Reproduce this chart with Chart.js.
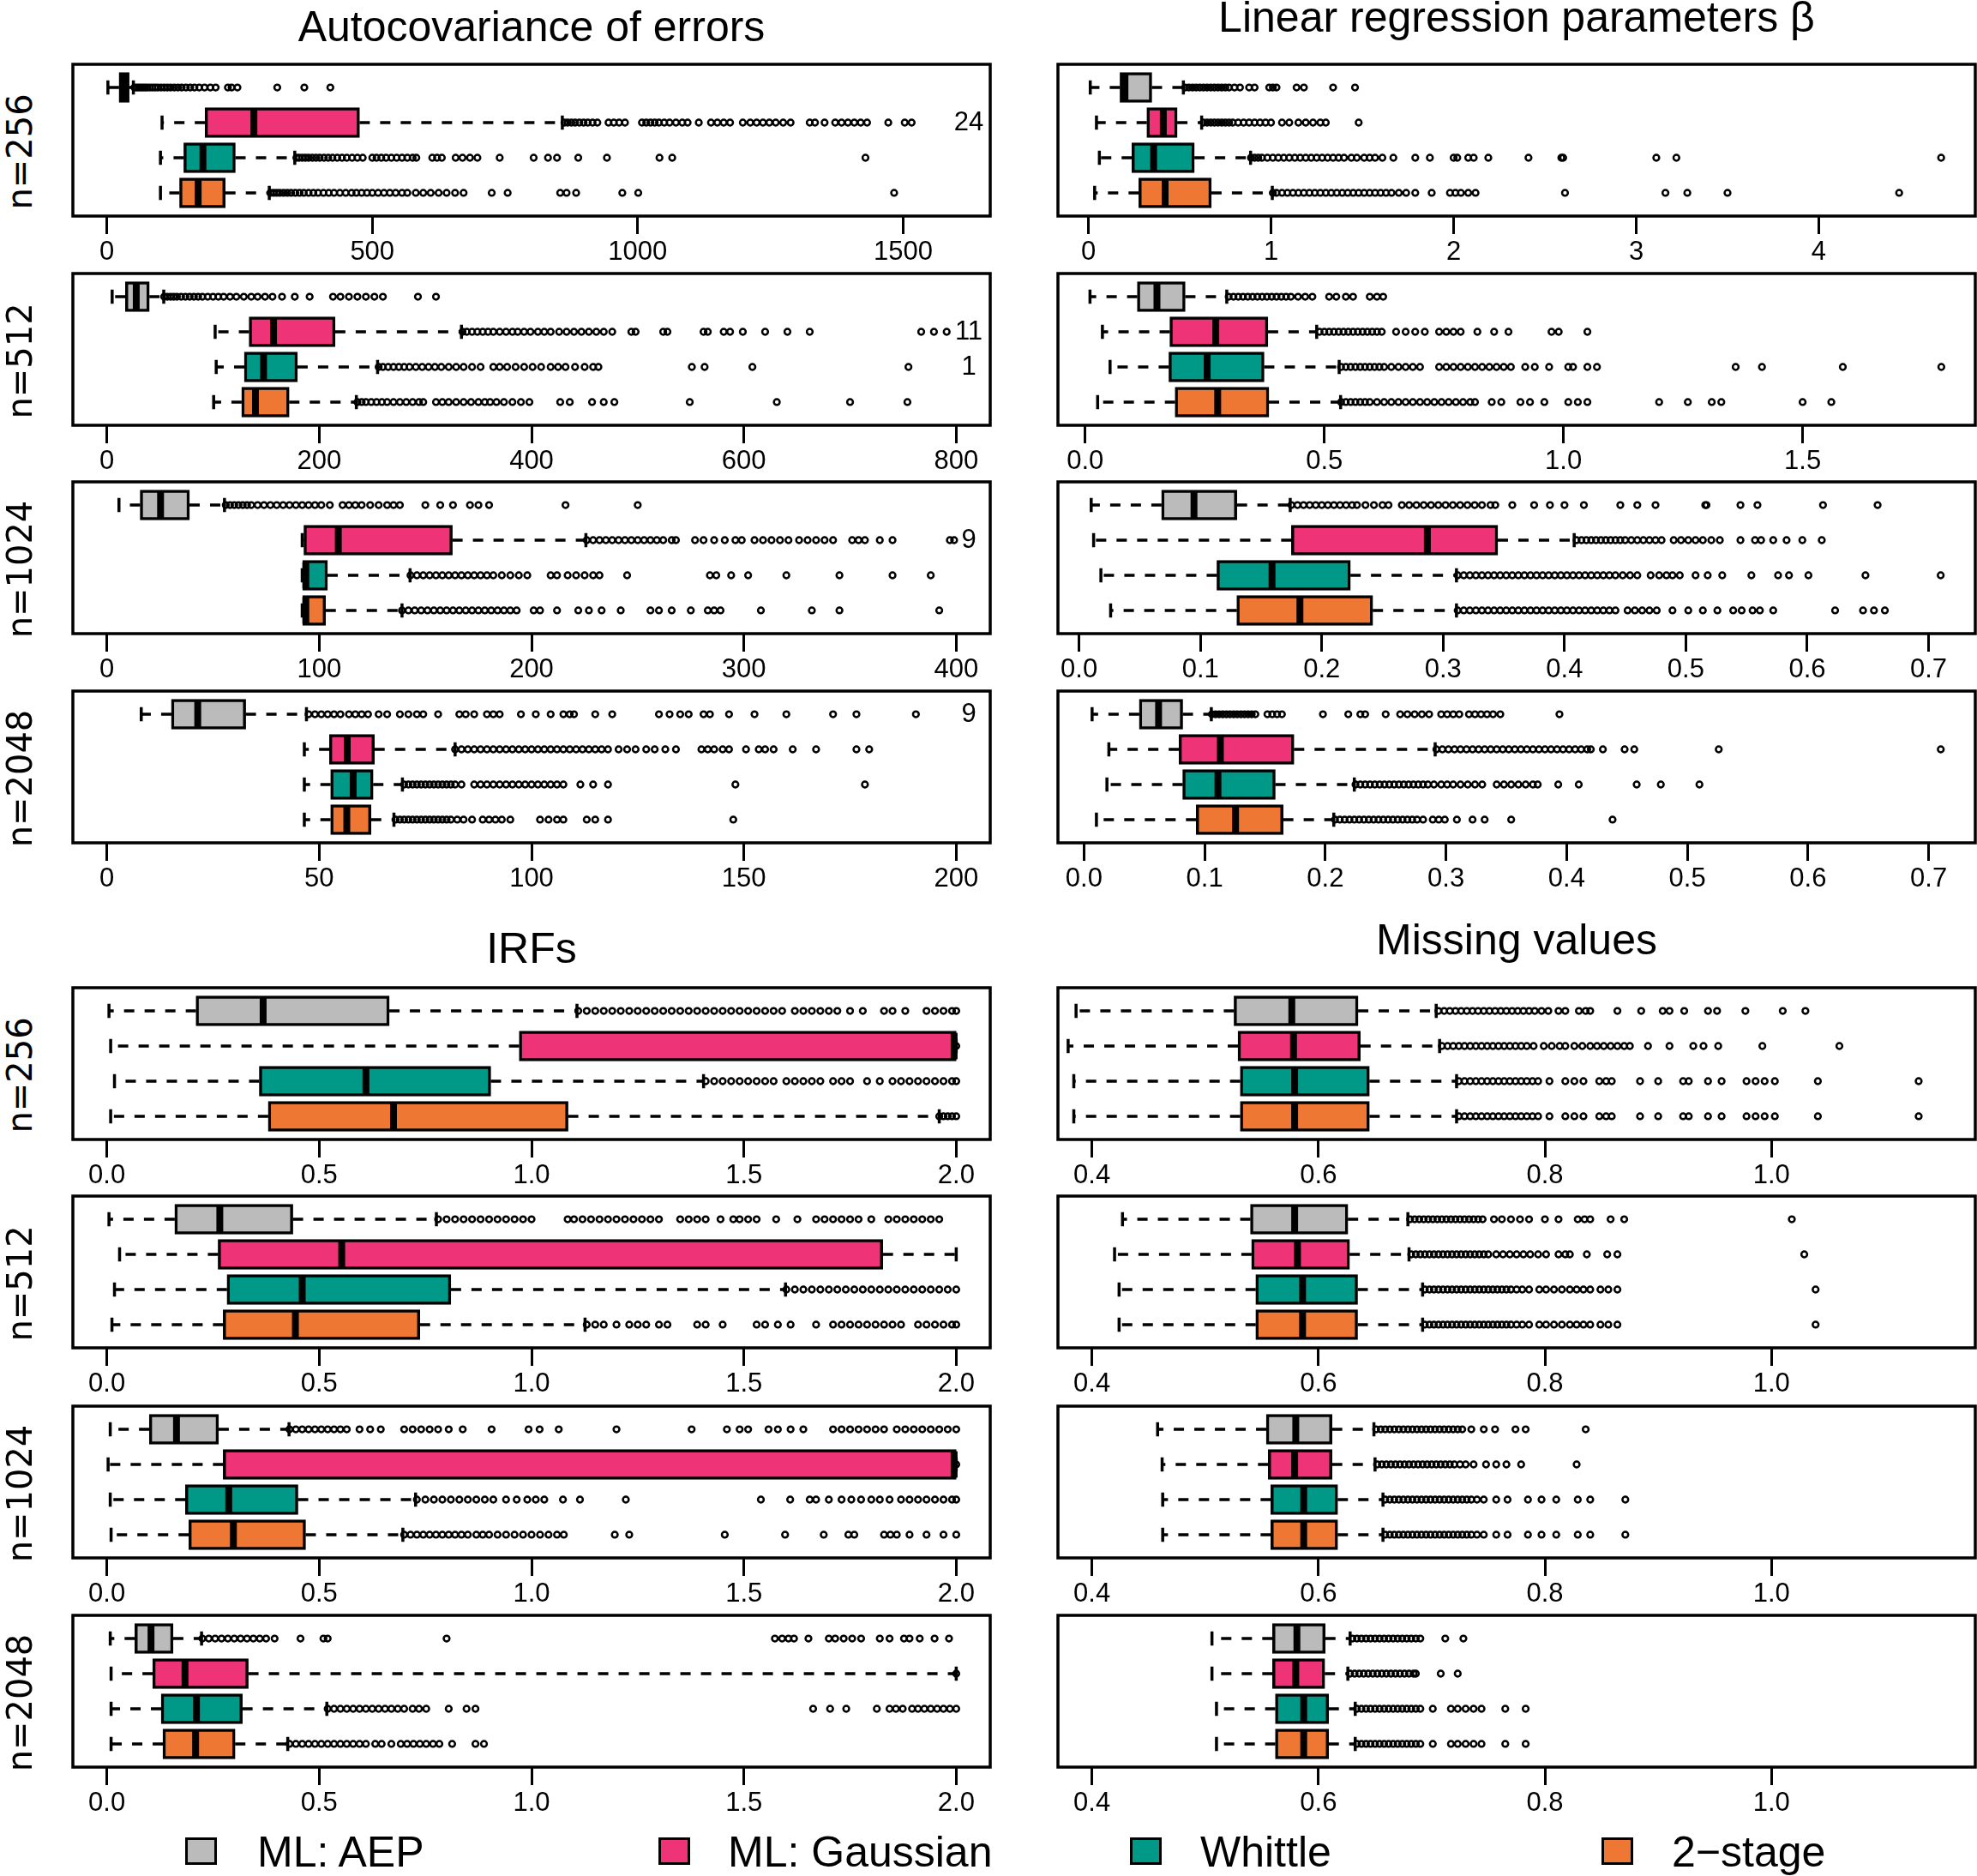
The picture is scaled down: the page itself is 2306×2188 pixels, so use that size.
<!DOCTYPE html>
<html>
<head>
<meta charset="utf-8">
<script src="https://cdn.jsdelivr.net/npm/chart.js@4.4.0/dist/chart.umd.min.js"></script>
<style>
html, body { margin: 0; padding: 0; width: 2306px; height: 2188px; overflow: hidden; background: #fff; }
body { position: relative; font-family: 'Liberation Sans', Arial, sans-serif; color: #000; }
canvas { position: absolute; }
.title { position: absolute; width: 1200px; text-align: center; font-size: 50px; line-height: 50px; white-space: nowrap; }
.rowlab { position: absolute; width: 200px; height: 40px; text-align: center; font-family: 'DejaVu Sans', sans-serif;
  font-size: 40px; line-height: 40px; white-space: nowrap; transform: rotate(-90deg); transform-origin: 50% 50%; }
.lgbox { position: absolute; width: 37px; height: 32px; box-sizing: border-box; border: 3px solid #000; }
.lgtxt { position: absolute; font-size: 50px; line-height: 50px; white-space: nowrap; }
</style>
</head>
<body>
<script>
// ---- data ----
const methods = ['ML: AEP', 'ML: Gaussian', 'Whittle', '2\u2212stage'];
const sampleSizes = ['n=256', 'n=512', 'n=1024', 'n=2048'];
const panelTitles = ['Autocovariance of errors', 'Linear regression parameters \u03b2', 'IRFs', 'Missing values'];

// box stats per method: [lower whisker, Q1, median, Q3, upper whisker]
const acov256Stats = [[2, 23, 32, 42, 50], [104, 185, 277, 476, 858], [101, 145, 181, 242, 354], [101, 137, 172, 223, 306]];
const acov512Stats = [[5, 17.5, 27.7, 40, 53.6], [102, 134, 157, 215, 334], [103, 129.5, 147.6, 179.5, 255], [100.6, 127, 140, 171.7, 235]];
const acov1024Stats = [[5.7, 15.7, 25.3, 38.9, 55.4], [92, 92.8, 109, 162.7, 225.6], [92, 92.2, 93.7, 103.9, 142.8], [92, 92.2, 93.7, 103, 139]];
const acov2048Stats = [[8.1, 15.2, 21.4, 32.7, 47], [46.5, 52.4, 56.6, 63, 82], [46.5, 52.7, 58, 62.7, 69.6], [46.5, 52.7, 56.5, 62.2, 67.6]];

const beta256Stats = [[0.01, 0.173, 0.20, 0.347, 0.52], [0.044, 0.32, 0.41, 0.486, 0.62], [0.06, 0.238, 0.357, 0.58, 0.888], [0.034, 0.276, 0.42, 0.673, 1.007]];
const beta512Stats = [[0.01, 0.109, 0.15, 0.209, 0.296], [0.036, 0.177, 0.273, 0.382, 0.484], [0.052, 0.175, 0.255, 0.374, 0.531], [0.026, 0.188, 0.277, 0.384, 0.534]];
const beta1024Stats = [[0.010, 0.068, 0.0947, 0.130, 0.174], [0.012, 0.175, 0.287, 0.345, 0.408], [0.018, 0.1136, 0.159, 0.2236, 0.311], [0.026, 0.130, 0.182, 0.242, 0.311]];
const beta2048Stats = [[0.0067, 0.0458, 0.0618, 0.0818, 0.1055], [0.0206, 0.0787, 0.113, 0.174, 0.291], [0.019, 0.0818, 0.111, 0.1585, 0.224], [0.0103, 0.093, 0.1256, 0.165, 0.207]];

const irf256Stats = [[0.005, 0.21, 0.368, 0.665, 1.107], [0.009, 0.971, 1.995, 2.0, 2.0], [0.018, 0.359, 0.61, 0.904, 1.405], [0.009, 0.38, 0.675, 1.086, 1.96]];
const irf512Stats = [[0.005, 0.16, 0.266, 0.438, 0.776], [0.03, 0.262, 0.553, 1.827, 2.0], [0.018, 0.283, 0.46, 0.81, 1.598], [0.012, 0.274, 0.444, 0.737, 1.126]];
const irf1024Stats = [[0.008, 0.10, 0.164, 0.263, 0.429], [0.003, 0.274, 1.995, 2.0, 2.0], [0.008, 0.185, 0.287, 0.45, 0.727], [0.01, 0.193, 0.298, 0.468, 0.697]];
const irf2048Stats = [[0.008, 0.066, 0.104, 0.156, 0.223], [0.01, 0.108, 0.184, 0.333, 2.0], [0.01, 0.128, 0.211, 0.319, 0.518], [0.01, 0.132, 0.209, 0.302, 0.426]];

const miss256Stats = [[0.386, 0.5255, 0.5765, 0.635, 0.704], [0.379, 0.529, 0.578, 0.637, 0.707], [0.384, 0.531, 0.579, 0.645, 0.722], [0.384, 0.531, 0.579, 0.645, 0.722]];
const miss512Stats = [[0.427, 0.54, 0.579, 0.626, 0.679], [0.42, 0.541, 0.5815, 0.6275, 0.68], [0.424, 0.5447, 0.586, 0.6346, 0.692], [0.424, 0.5447, 0.586, 0.6346, 0.692]];
const miss1024Stats = [[0.458, 0.554, 0.58, 0.612, 0.649], [0.462, 0.5557, 0.579, 0.612, 0.65], [0.4625, 0.558, 0.587, 0.617, 0.657], [0.4625, 0.558, 0.587, 0.617, 0.657]];
const miss2048Stats = [[0.506, 0.5595, 0.581, 0.606, 0.628], [0.506, 0.5595, 0.58, 0.6056, 0.626], [0.51, 0.562, 0.587, 0.609, 0.6325], [0.51, 0.562, 0.587, 0.609, 0.6325]];

// outliers per method
const acov256Out = [
  [52,56,60,64,68,72,76,81,86,91,96,102,108,114,120,127,134,141,149,157,165,174,184,195,205,228,235,246,321,372,421],
  [862,868,875,882,890,898,906,915,924,945,955,965,976,1008,1016,1024,1032,1040,1050,1060,1072,1084,1094,1115,1138,1150,1162,1174,1198,1212,1224,1236,1248,1260,1274,1288,1324,1334,1352,1372,1384,1396,1408,1420,1432,1472,1503,1516],
  [357,362,368,374,380,387,394,401,409,417,425,434,443,452,462,472,482,500,508,517,526,536,546,556,566,576,583,613,622,631,657,670,684,698,740,804,831,848,888,942,1041,1065,1429],
  [308,314,320,326,333,340,347,355,363,371,380,389,398,408,418,428,439,450,461,470,480,490,500,511,522,533,544,556,566,582,596,610,625,640,656,672,725,755,854,866,884,971,1001,1483]
];
const acov512Out = [
  [54,57,60,63,66,70,74,78,82,86,90,95,100,105,110,116,122,129,136,142,149,156,165,177,191,213,220,228,236,244,252,260,293,310],
  [335,339,344,349,354,359,364,370,376,382,387,393,399,406,412,418,426,433,440,447,454,461,468,476,494,498,524,528,562,566,581,587,599,620,641,662,767,779,791],
  [256,260,265,270,275,280,285,291,297,303,309,315,322,329,336,344,352,364,370,377,385,393,401,409,418,425,432,441,450,458,463,551,563,608,755],
  [236,240,244,249,254,259,264,270,276,282,288,294,298,310,316,322,329,336,343,350,356,361,367,374,382,390,398,427,436,457,468,478,549,631,700,754]
];
const acov1024Out = [
  [56,58,60,62,64,66,68,71,74,77,80,83,86,89,92,95,98,101,105,111,114,117,120,124,128,132,135,138,150,157,163,171,175,180,216,250],
  [226,229,232,235,238,241,244,247,250,253,256,259,262,266,268,277,281,286,291,296,299,305,309,313,317,321,326,330,334,338,342,351,354,357,364,370,397,399],
  [143,146,149,152,155,158,161,164,167,170,173,176,179,182,186,190,194,198,209,212,217,221,225,229,232,245,284,287,294,302,320,345,370,388],
  [139,142,145,148,151,154,157,160,163,166,169,172,175,178,181,184,187,190,193,201,204,212,222,227,233,242,256,260,266,275,283,286,289,308,332,345,392]
];
const acov2048Out = [
  [47.5,49,50.5,52,53.5,55,57,58.5,60,61.5,64,66,69,71,73,74.5,78,83,84.5,86.5,89.5,91,92.5,97.5,101,104.5,107.5,109,110,115,119,130,132.5,135,137,140.5,142,146.5,152.5,160,171,176.5,190.5],
  [82,83.5,85,86.5,88,89.5,91,92.5,94,95.5,97,98.5,100,101.5,103,104.5,106,107.5,109,110.5,112,113.5,115,116.5,118,120.5,122.5,124.5,127,129,131.5,134,140,141.5,143,145,146.5,150.5,153.5,155,157,161.5,167,176.5,179.5],
  [70,71,72,73,74,75,76,77,78,79,80,81,82,83.5,86.5,88,89.5,91,92.5,94,95.5,97,98.5,100,101.5,103,104.5,106,107.5,111.5,114.5,118,148,178.5],
  [68,69,70,71,72,73,74,75,76,77,78,79,80,81,82.5,84,86,88.5,90,91.5,93,95,102,104,106,107.5,113,115,118,147.5]
];

const beta256Out = [
  [0.53,0.55,0.57,0.59,0.61,0.63,0.65,0.67,0.69,0.71,0.73,0.75,0.77,0.80,0.83,0.88,0.91,0.99,1.01,1.03,1.14,1.18,1.34,1.46],
  [0.63,0.65,0.67,0.69,0.71,0.73,0.75,0.77,0.79,0.82,0.85,0.88,0.91,0.94,0.97,1.00,1.06,1.10,1.15,1.19,1.23,1.27,1.30,1.48],
  [0.89,0.91,0.93,0.95,0.98,1.01,1.04,1.07,1.10,1.13,1.16,1.19,1.22,1.25,1.28,1.31,1.34,1.37,1.40,1.44,1.47,1.51,1.54,1.57,1.61,1.67,1.79,1.87,2.00,2.02,2.08,2.11,2.19,2.41,2.59,2.60,3.11,3.22,4.67],
  [1.01,1.03,1.06,1.09,1.12,1.15,1.18,1.21,1.24,1.27,1.30,1.33,1.36,1.39,1.42,1.45,1.48,1.51,1.54,1.57,1.60,1.63,1.66,1.70,1.74,1.79,1.88,1.98,2.01,2.04,2.08,2.12,2.61,3.16,3.28,3.50,4.44]
];
const beta512Out = [
  [0.30,0.31,0.32,0.33,0.34,0.35,0.36,0.37,0.38,0.39,0.40,0.41,0.42,0.43,0.445,0.46,0.475,0.51,0.525,0.545,0.56,0.595,0.61,0.623],
  [0.49,0.50,0.51,0.52,0.53,0.54,0.55,0.56,0.57,0.58,0.59,0.60,0.61,0.62,0.65,0.67,0.69,0.71,0.74,0.755,0.77,0.785,0.82,0.855,0.885,0.975,0.99,1.05],
  [0.535,0.545,0.555,0.565,0.575,0.585,0.595,0.605,0.615,0.625,0.64,0.655,0.67,0.685,0.70,0.74,0.755,0.77,0.785,0.80,0.815,0.83,0.845,0.86,0.875,0.89,0.92,0.94,0.97,1.01,1.02,1.05,1.07,1.36,1.415,1.584,1.79],
  [0.535,0.545,0.555,0.565,0.575,0.585,0.595,0.61,0.625,0.64,0.655,0.67,0.685,0.70,0.715,0.73,0.745,0.76,0.775,0.79,0.805,0.815,0.85,0.87,0.91,0.93,0.96,1.01,1.03,1.05,1.20,1.26,1.31,1.33,1.50,1.56]
];
const beta1024Out = [
  [0.175,0.18,0.185,0.19,0.195,0.20,0.205,0.21,0.215,0.22,0.225,0.229,0.236,0.243,0.25,0.255,0.266,0.272,0.278,0.284,0.29,0.296,0.302,0.308,0.314,0.32,0.326,0.332,0.339,0.343,0.357,0.375,0.388,0.40,0.416,0.446,0.46,0.475,0.516,0.517,0.545,0.559,0.613,0.658],
  [0.41,0.414,0.418,0.422,0.426,0.43,0.434,0.438,0.442,0.446,0.45,0.455,0.46,0.465,0.47,0.475,0.48,0.49,0.496,0.502,0.508,0.514,0.521,0.528,0.545,0.557,0.562,0.572,0.583,0.596,0.612],
  [0.312,0.317,0.322,0.327,0.332,0.337,0.342,0.347,0.352,0.357,0.362,0.367,0.372,0.377,0.382,0.387,0.392,0.397,0.402,0.407,0.412,0.417,0.422,0.427,0.432,0.437,0.442,0.448,0.454,0.46,0.471,0.478,0.484,0.489,0.495,0.508,0.518,0.53,0.554,0.576,0.585,0.601,0.648,0.71],
  [0.312,0.317,0.322,0.327,0.332,0.337,0.342,0.347,0.352,0.357,0.362,0.367,0.372,0.377,0.382,0.387,0.392,0.397,0.402,0.407,0.412,0.417,0.422,0.427,0.432,0.437,0.442,0.452,0.458,0.464,0.47,0.476,0.489,0.502,0.514,0.526,0.539,0.546,0.555,0.561,0.572,0.623,0.646,0.655,0.664]
];
const beta2048Out = [
  [0.106,0.109,0.112,0.115,0.118,0.121,0.124,0.127,0.13,0.133,0.136,0.139,0.142,0.152,0.156,0.16,0.164,0.198,0.219,0.229,0.233,0.25,0.262,0.268,0.274,0.28,0.286,0.296,0.301,0.306,0.311,0.319,0.324,0.329,0.334,0.339,0.345,0.394],
  [0.292,0.297,0.302,0.307,0.312,0.317,0.322,0.327,0.332,0.337,0.342,0.347,0.352,0.357,0.362,0.367,0.372,0.377,0.382,0.387,0.392,0.397,0.402,0.407,0.412,0.417,0.42,0.43,0.448,0.456,0.526,0.71],
  [0.225,0.229,0.233,0.237,0.241,0.245,0.249,0.253,0.257,0.261,0.265,0.269,0.273,0.277,0.281,0.285,0.29,0.296,0.301,0.306,0.312,0.318,0.324,0.33,0.342,0.348,0.354,0.36,0.366,0.372,0.376,0.393,0.41,0.458,0.478,0.51],
  [0.208,0.212,0.216,0.22,0.224,0.228,0.232,0.236,0.24,0.244,0.248,0.252,0.256,0.26,0.264,0.268,0.272,0.276,0.281,0.289,0.294,0.299,0.309,0.322,0.332,0.354,0.438]
];

const irf256Out = [
  [1.11,1.13,1.15,1.17,1.19,1.21,1.23,1.25,1.27,1.29,1.31,1.33,1.35,1.37,1.39,1.41,1.43,1.45,1.47,1.49,1.51,1.53,1.55,1.57,1.59,1.62,1.64,1.66,1.68,1.70,1.72,1.75,1.78,1.83,1.85,1.88,1.93,1.95,1.97,1.99,2.0],
  [2.0],
  [1.41,1.43,1.45,1.47,1.49,1.51,1.53,1.55,1.57,1.60,1.62,1.64,1.66,1.68,1.71,1.73,1.75,1.79,1.82,1.85,1.87,1.89,1.91,1.93,1.95,1.97,1.99,2.0],
  [1.96,1.97,1.98,1.99,2.0]
];
const irf512Out = [
  [0.78,0.80,0.82,0.84,0.86,0.88,0.90,0.92,0.94,0.96,0.98,1.0,1.085,1.10,1.12,1.14,1.16,1.18,1.20,1.22,1.24,1.26,1.28,1.30,1.35,1.37,1.39,1.41,1.445,1.475,1.49,1.51,1.53,1.576,1.626,1.67,1.69,1.71,1.73,1.75,1.77,1.80,1.84,1.86,1.88,1.90,1.92,1.94,1.96],
  [],
  [1.60,1.62,1.64,1.66,1.68,1.70,1.72,1.74,1.76,1.78,1.80,1.82,1.84,1.86,1.88,1.90,1.92,1.94,1.96,1.98,2.0],
  [1.13,1.15,1.17,1.20,1.23,1.25,1.27,1.30,1.32,1.39,1.41,1.45,1.53,1.55,1.58,1.61,1.67,1.71,1.73,1.75,1.77,1.79,1.81,1.83,1.85,1.87,1.91,1.93,1.95,1.97,1.99,2.0]
];
const irf1024Out = [
  [0.43,0.445,0.46,0.475,0.49,0.505,0.52,0.535,0.55,0.565,0.595,0.62,0.645,0.70,0.72,0.74,0.76,0.78,0.805,0.838,0.906,0.993,1.019,1.064,1.2,1.377,1.46,1.49,1.51,1.558,1.58,1.61,1.64,1.71,1.73,1.75,1.77,1.79,1.81,1.83,1.86,1.88,1.90,1.92,1.94,1.96,1.98,2.0],
  [2.0],
  [0.73,0.75,0.77,0.79,0.81,0.83,0.85,0.87,0.89,0.91,0.94,0.965,0.99,1.01,1.03,1.074,1.114,1.222,1.54,1.609,1.655,1.67,1.70,1.73,1.753,1.776,1.80,1.82,1.843,1.87,1.89,1.91,1.93,1.95,1.97,1.99,2.0],
  [0.70,0.715,0.73,0.745,0.76,0.775,0.79,0.805,0.82,0.835,0.85,0.87,0.885,0.90,0.92,0.94,0.96,0.98,1.00,1.02,1.04,1.06,1.076,1.196,1.23,1.455,1.597,1.688,1.746,1.76,1.83,1.845,1.86,1.89,1.93,1.97,2.0]
];
const irf2048Out = [
  [0.225,0.24,0.255,0.27,0.285,0.30,0.315,0.33,0.345,0.36,0.375,0.395,0.456,0.51,0.52,0.80,1.573,1.59,1.605,1.618,1.652,1.70,1.715,1.735,1.755,1.776,1.82,1.843,1.877,1.89,1.914,1.949,1.983],
  [2.0],
  [0.52,0.535,0.55,0.565,0.58,0.595,0.61,0.625,0.64,0.655,0.67,0.685,0.70,0.72,0.735,0.752,0.805,0.847,0.868,1.663,1.703,1.741,1.813,1.843,1.858,1.874,1.896,1.91,1.925,1.94,1.955,1.97,1.985,2.0],
  [0.43,0.445,0.46,0.475,0.49,0.505,0.52,0.535,0.55,0.565,0.58,0.595,0.61,0.632,0.647,0.67,0.692,0.707,0.722,0.737,0.752,0.768,0.783,0.813,0.868,0.888]
];

const miss256Out = [
  [0.706,0.711,0.716,0.721,0.726,0.731,0.736,0.741,0.746,0.751,0.756,0.761,0.766,0.771,0.776,0.781,0.786,0.791,0.797,0.803,0.812,0.818,0.83,0.836,0.84,0.864,0.885,0.904,0.91,0.923,0.944,0.952,0.977,1.01,1.03],
  [0.709,0.714,0.719,0.724,0.729,0.734,0.739,0.744,0.749,0.754,0.759,0.764,0.769,0.774,0.779,0.784,0.79,0.799,0.806,0.813,0.818,0.826,0.833,0.84,0.846,0.852,0.858,0.864,0.87,0.875,0.891,0.91,0.931,0.94,0.953,0.992,1.06],
  [0.724,0.729,0.734,0.739,0.744,0.749,0.754,0.759,0.764,0.769,0.774,0.779,0.784,0.789,0.794,0.804,0.818,0.826,0.834,0.848,0.854,0.859,0.884,0.9,0.922,0.927,0.944,0.956,0.978,0.986,0.994,1.003,1.041,1.13],
  [0.724,0.729,0.734,0.739,0.744,0.749,0.754,0.759,0.764,0.769,0.774,0.779,0.784,0.789,0.794,0.804,0.818,0.826,0.834,0.848,0.854,0.859,0.884,0.9,0.922,0.927,0.944,0.956,0.978,0.986,0.994,1.003,1.041,1.13]
];
const miss512Out = [
  [0.681,0.685,0.689,0.693,0.697,0.701,0.705,0.709,0.713,0.717,0.721,0.725,0.729,0.733,0.737,0.741,0.745,0.755,0.762,0.77,0.778,0.786,0.80,0.812,0.829,0.835,0.84,0.858,0.87,1.018],
  [0.682,0.686,0.69,0.694,0.698,0.702,0.706,0.71,0.714,0.718,0.722,0.726,0.73,0.734,0.738,0.742,0.746,0.75,0.757,0.763,0.769,0.775,0.781,0.787,0.794,0.801,0.812,0.818,0.822,0.837,0.855,0.864,1.029],
  [0.694,0.698,0.702,0.706,0.71,0.714,0.718,0.722,0.726,0.73,0.734,0.738,0.742,0.746,0.75,0.754,0.758,0.762,0.766,0.77,0.775,0.78,0.786,0.795,0.801,0.808,0.815,0.822,0.828,0.834,0.84,0.849,0.856,0.864,1.039],
  [0.694,0.698,0.702,0.706,0.71,0.714,0.718,0.722,0.726,0.73,0.734,0.738,0.742,0.746,0.75,0.754,0.758,0.762,0.766,0.77,0.775,0.78,0.786,0.795,0.801,0.808,0.815,0.822,0.828,0.834,0.84,0.849,0.856,0.864,1.039]
];
const miss1024Out = [
  [0.651,0.655,0.659,0.663,0.667,0.671,0.675,0.679,0.683,0.687,0.691,0.695,0.699,0.703,0.707,0.711,0.715,0.719,0.723,0.727,0.735,0.746,0.756,0.774,0.783,0.836],
  [0.652,0.656,0.66,0.664,0.668,0.672,0.676,0.68,0.684,0.688,0.692,0.696,0.7,0.704,0.708,0.712,0.716,0.72,0.725,0.73,0.737,0.748,0.757,0.766,0.779,0.828],
  [0.659,0.663,0.667,0.671,0.675,0.679,0.683,0.687,0.691,0.695,0.699,0.703,0.707,0.711,0.715,0.719,0.723,0.727,0.731,0.735,0.74,0.746,0.757,0.767,0.785,0.797,0.81,0.829,0.84,0.871],
  [0.659,0.663,0.667,0.671,0.675,0.679,0.683,0.687,0.691,0.695,0.699,0.703,0.707,0.711,0.715,0.719,0.723,0.727,0.731,0.735,0.74,0.746,0.757,0.767,0.785,0.797,0.81,0.829,0.84,0.871]
];
const miss2048Out = [
  [0.63,0.634,0.638,0.642,0.646,0.65,0.654,0.658,0.662,0.666,0.67,0.674,0.678,0.682,0.686,0.69,0.712,0.728],
  [0.628,0.632,0.636,0.64,0.644,0.648,0.652,0.656,0.66,0.664,0.668,0.672,0.676,0.68,0.684,0.686,0.708,0.723],
  [0.634,0.638,0.642,0.646,0.65,0.654,0.658,0.662,0.666,0.67,0.674,0.678,0.682,0.686,0.69,0.701,0.717,0.723,0.73,0.737,0.744,0.765,0.783],
  [0.634,0.638,0.642,0.646,0.65,0.654,0.658,0.662,0.666,0.67,0.674,0.678,0.682,0.686,0.69,0.701,0.717,0.723,0.73,0.737,0.744,0.765,0.783]
];

// counts of values beyond the axis, written at the right edge
const acovNotes = [[null, '24', null, null], [null, '11', '1', null], [null, '9', null, null], ['9', null, null, null]];

// tick values and labels
const acovTicks = [[0, 500, 1000, 1500], [0, 200, 400, 600, 800], [0, 100, 200, 300, 400], [0, 50, 100, 150, 200]];
const acovTickLabels = [['0', '500', '1000', '1500'], ['0', '200', '400', '600', '800'], ['0', '100', '200', '300', '400'], ['0', '50', '100', '150', '200']];
const betaTicks = [[0, 1, 2, 3, 4], [0, 0.5, 1, 1.5], [0, 0.1, 0.2, 0.3, 0.4, 0.5, 0.6, 0.7], [0, 0.1, 0.2, 0.3, 0.4, 0.5, 0.6, 0.7]];
const betaTickLabels = [['0', '1', '2', '3', '4'], ['0.0', '0.5', '1.0', '1.5'],
  ['0.0', '0.1', '0.2', '0.3', '0.4', '0.5', '0.6', '0.7'], ['0.0', '0.1', '0.2', '0.3', '0.4', '0.5', '0.6', '0.7']];
const irfTicks = [0, 0.5, 1, 1.5, 2];
const irfTickLabels = ['0.0', '0.5', '1.0', '1.5', '2.0'];
const missTicks = [0.4, 0.6, 0.8, 1.0];
const missTickLabels = ['0.4', '0.6', '0.8', '1.0'];

// axis ranges
const acovRange = [[-64, 1664], [-32, 832], [-16, 416], [-8, 208]];
const betaRange = [[-0.167, 4.857], [-0.057, 1.861], [-0.0174, 0.7385], [-0.0216, 0.7386]];
const irfRange = [-0.08, 2.08];
const missRange = [0.37, 1.18];

// ---- layout / style ----
const colors = ['#BBBBBB', '#EE3377', '#009988', '#EE7733'];
const colLeft = [85, 1234];
const rowTop = [75, 319, 562, 806, 1152, 1395, 1640, 1884];
const PANEL_W = 1070, PANEL_H = 177;
const PADX = 30, PADT = 10, AXIS_H = 70;
const FONT = "'Liberation Sans', Arial, sans-serif";

const acovStats = [acov256Stats, acov512Stats, acov1024Stats, acov2048Stats];
const acovOut = [acov256Out, acov512Out, acov1024Out, acov2048Out];
const betaStats = [beta256Stats, beta512Stats, beta1024Stats, beta2048Stats];
const betaOut = [beta256Out, beta512Out, beta1024Out, beta2048Out];
const irfStats = [irf256Stats, irf512Stats, irf1024Stats, irf2048Stats];
const irfOut = [irf256Out, irf512Out, irf1024Out, irf2048Out];
const missStats = [miss256Stats, miss512Stats, miss1024Stats, miss2048Stats];
const missOut = [miss256Out, miss512Out, miss1024Out, miss2048Out];

const panels = [];
for (let r = 0; r < 4; r++) {
  panels.push({row: r, col: 0, stats: acovStats[r], out: acovOut[r], ticks: acovTicks[r], labels: acovTickLabels[r], range: acovRange[r], notes: acovNotes[r]});
  panels.push({row: r, col: 1, stats: betaStats[r], out: betaOut[r], ticks: betaTicks[r], labels: betaTickLabels[r], range: betaRange[r], notes: null});
  panels.push({row: r + 4, col: 0, stats: irfStats[r], out: irfOut[r], ticks: irfTicks, labels: irfTickLabels, range: irfRange, notes: null});
  panels.push({row: r + 4, col: 1, stats: missStats[r], out: missOut[r], ticks: missTicks, labels: missTickLabels, range: missRange, notes: null});
}

function boxPlugin(p) {
  return {
    id: 'rbox',
    beforeDatasetsDraw(chart) {
      const {ctx, scales: {x, y}} = chart;
      ctx.save();
      ctx.strokeStyle = '#000';
      ctx.lineWidth = 3.5;
      p.stats.forEach((s, i) => {
        const yc = y.getPixelForValue(i + 1);
        const sh = Math.abs(y.getPixelForValue(i + 1.2) - yc);
        ctx.setLineDash([12, 12]);
        ctx.beginPath();
        ctx.moveTo(x.getPixelForValue(s[1]), yc);
        ctx.lineTo(x.getPixelForValue(s[0]), yc);
        ctx.moveTo(x.getPixelForValue(s[3]), yc);
        ctx.lineTo(x.getPixelForValue(s[4]), yc);
        ctx.stroke();
        ctx.setLineDash([]);
        ctx.beginPath();
        [s[0], s[4]].forEach(v => {
          const px = x.getPixelForValue(v);
          ctx.moveTo(px, yc - sh);
          ctx.lineTo(px, yc + sh);
        });
        ctx.stroke();
      });
      ctx.restore();
    },
    afterDatasetsDraw(chart) {
      const {ctx, chartArea: a, scales: {x, y}} = chart;
      ctx.save();
      ctx.strokeStyle = '#000';
      ctx.lineWidth = 8;
      p.stats.forEach((s, i) => {
        const yc = y.getPixelForValue(i + 1);
        const bh = Math.abs(y.getPixelForValue(i + 1.4) - yc);
        const px = x.getPixelForValue(s[2]);
        ctx.beginPath();
        ctx.moveTo(px, yc - bh + 1);
        ctx.lineTo(px, yc + bh - 1);
        ctx.stroke();
      });
      ctx.lineWidth = 3.5;
      ctx.strokeRect(a.left, a.top, a.right - a.left, a.bottom - a.top);
      if (p.notes) {
        ctx.fillStyle = '#000';
        ctx.font = '31px ' + FONT;
        ctx.textAlign = 'center';
        ctx.textBaseline = 'middle';
        p.notes.forEach((t, i) => {
          if (t) ctx.fillText(t, a.right - 25, y.getPixelForValue(i + 1));
        });
      }
      ctx.restore();
    }
  };
}

panels.forEach(p => {
  const cv = document.createElement('canvas');
  const w = PANEL_W + 2 * PADX, h = PADT + PANEL_H + AXIS_H;
  cv.width = w; cv.height = h;
  cv.style.left = (colLeft[p.col] - PADX) + 'px';
  cv.style.top = (rowTop[p.row] - PADT) + 'px';
  cv.style.width = w + 'px'; cv.style.height = h + 'px';
  document.body.appendChild(cv);

  const boxPx = 35;
  new Chart(cv, {
    type: 'bar',
    data: {
      datasets: [
        {
          type: 'bar',
          data: p.stats.map((s, i) => ({x: [s[1], s[3]], y: i + 1})),
          backgroundColor: colors,
          borderColor: '#000',
          borderWidth: 3.5,
          borderSkipped: false,
          barThickness: boxPx,
          order: 2
        },
        {
          type: 'scatter',
          data: p.out.flatMap((vals, i) => vals.map(v => ({x: v, y: i + 1}))),
          pointStyle: 'circle',
          pointRadius: 3.4,
          pointHoverRadius: 3.4,
          borderWidth: 2.5,
          borderColor: '#000',
          backgroundColor: 'rgba(0,0,0,0)',
          order: 1
        }
      ]
    },
    options: {
      indexAxis: 'y',
      responsive: false,
      animation: false,
      devicePixelRatio: 1,
      layout: {padding: {left: PADX, right: PADX, top: PADT, bottom: 0}},
      plugins: {legend: {display: false}, tooltip: {enabled: false}},
      events: [],
      scales: {
        x: {
          type: 'linear',
          position: 'bottom',
          min: p.range[0],
          max: p.range[1],
          offset: false,
          border: {display: false},
          grid: {display: true, drawOnChartArea: false, drawTicks: true, tickLength: 21, tickWidth: 3, tickColor: '#000'},
          ticks: {
            color: '#000',
            font: {family: FONT, size: 31},
            padding: 3,
            autoSkip: false,
            maxRotation: 0,
            minRotation: 0,
            callback: v => p.labels[p.ticks.indexOf(v)]
          },
          afterBuildTicks: scale => { scale.ticks = p.ticks.map(v => ({value: v})); },
          afterFit: scale => { scale.height = AXIS_H; }
        },
        y: {
          type: 'linear',
          reverse: true,
          min: 0.34,
          max: 4.66,
          offset: false,
          display: false
        }
      }
    },
    plugins: [boxPlugin(p)]
  });
});

// ---- titles, row labels, legend ----
function addDiv(cls, text, left, top) {
  const d = document.createElement('div');
  d.className = cls;
  d.textContent = text;
  d.style.left = left + 'px';
  d.style.top = top + 'px';
  document.body.appendChild(d);
  return d;
}
const titleCenters = [620, 1769, 620, 1769];
const titleBaselines = [48, 37, 1123, 1113];
panelTitles.forEach((t, i) => addDiv('title', t, titleCenters[i] - 600, titleBaselines[i] - 42));

for (let r = 0; r < 8; r++) {
  const cy = rowTop[r] + PANEL_H / 2 + 13;
  addDiv('rowlab', sampleSizes[r % 4], 23 - 100, cy - 20);
}

const legendBoxX = [216, 768, 1318, 1868];
const legendTextX = [300, 849, 1400, 1950];
methods.forEach((m, i) => {
  const b = addDiv('lgbox', '', legendBoxX[i], 2143);
  b.style.background = colors[i];
  addDiv('lgtxt', m, legendTextX[i], 2177 - 42);
});
</script>
</body>
</html>
